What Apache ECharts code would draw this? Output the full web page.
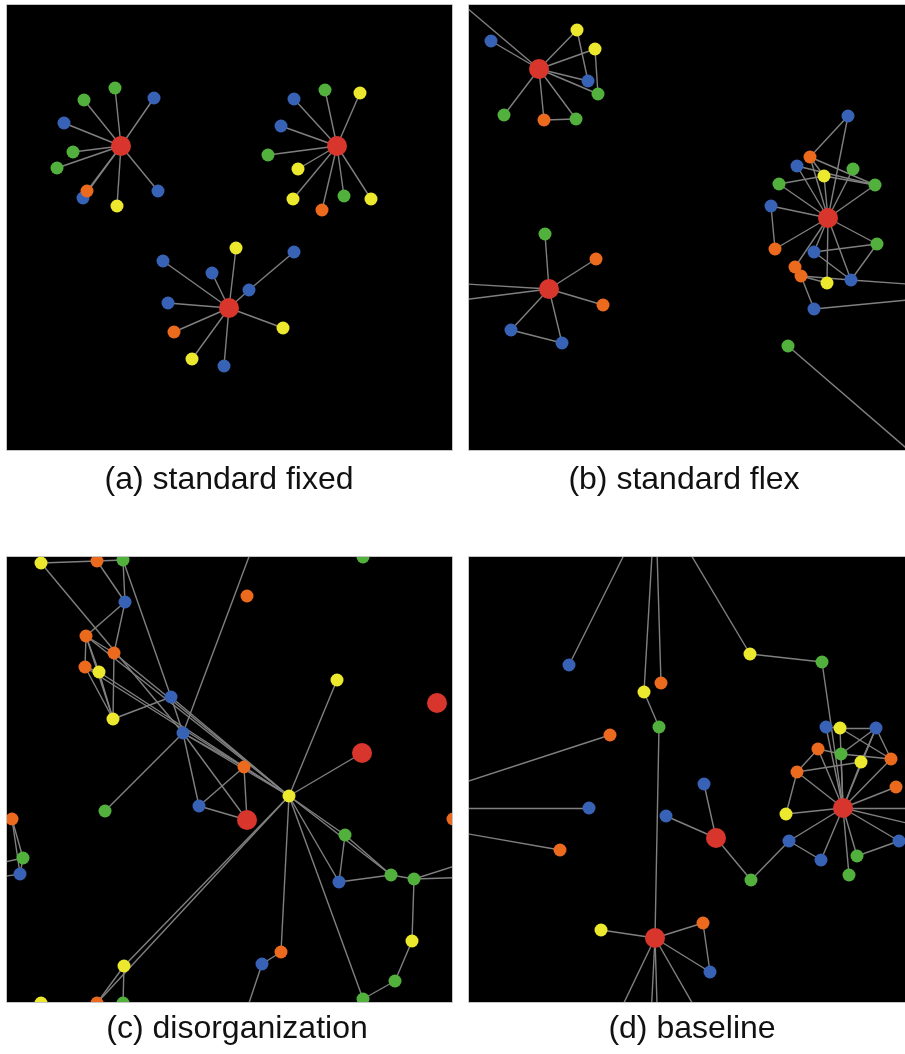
<!DOCTYPE html>
<html><head><meta charset="utf-8">
<script src="https://cdn.jsdelivr.net/npm/echarts@6/dist/echarts.min.js"></script>
<style>html,body{margin:0;padding:0;background:#fff}#c{width:905px;height:1054px}</style>
</head><body><div id="c"></div>
<script>
// Node arrays: [x, y, kind] in panel-local units; kind null = off-panel anchor point
const nodesA = [
  [114,141,'R'],[108,83,'G'],[77,95,'G'],[147,93,'B'],[57,118,'B'],[66,147,'G'],[50,163,'G'],[76,193,'B'],[80,186,'O'],[110,201,'Y'],[151,186,'B'],
  [330,141,'R'],[318,85,'G'],[287,94,'B'],[353,88,'Y'],[274,121,'B'],[261,150,'G'],[291,164,'Y'],[286,194,'Y'],[315,205,'O'],[337,191,'G'],[364,194,'Y'],
  [222,303,'R'],[156,256,'B'],[229,243,'Y'],[205,268,'B'],[287,247,'B'],[242,285,'B'],[161,298,'B'],[167,327,'O'],[276,323,'Y'],[185,354,'Y'],[217,361,'B']
];
const edgesA = [
  [0,1],[0,2],[0,3],[0,4],[0,5],[0,6],[0,7],[0,8],[0,9],[0,10],
  [11,12],[11,13],[11,14],[11,15],[11,16],[11,17],[11,18],[11,19],[11,20],[11,21],
  [22,23],[22,24],[22,25],[22,27],[27,26],[22,28],[22,29],[22,30],[22,31],[22,32]
];
const nodesB = [
  [70,64,'R'],[22,36,'B'],[108,25,'Y'],[126,44,'Y'],[119,76,'B'],[129,89,'G'],[35,110,'G'],[75,115,'O'],[107,114,'G'],[-28,-19,null],
  [359,213,'R'],[379,111,'B'],[341,152,'O'],[328,161,'B'],[355,171,'Y'],[384,164,'G'],[406,180,'G'],[310,179,'G'],[302,201,'B'],[306,244,'O'],
  [345,247,'B'],[408,239,'G'],[326,262,'O'],[332,271,'O'],[358,278,'Y'],[382,275,'B'],[345,304,'B'],[319,341,'G'],[480,282,null],[480,291,null],[480,480,null],
  [80,284,'R'],[76,229,'G'],[127,254,'O'],[134,300,'O'],[42,325,'B'],[93,338,'B'],[-69,275,null],[-69,303,null]
];
const edgesB = [
  [0,1],[0,2],[0,3],[0,4],[0,5],[0,6],[0,7],[0,8],[0,9],[2,4],[3,5],[7,8],
  [10,11],[11,12],[10,12],[12,16],[12,14],[13,16],[13,10],[14,10],[15,10],[16,10],[17,14],[17,10],[18,10],[18,19],
  [10,19],[10,20],[10,21],[10,24],[10,25],[20,21],[20,25],[21,25],[10,22],[23,24],[23,25],[23,26],[14,16],
  [25,28],[26,29],[27,30],
  [31,32],[31,33],[31,34],[31,35],[31,36],[35,36],[31,37],[31,38]
];
const nodesC = [
  [34,6,'Y'],[90,4,'O'],[116,3,'G'],[356,0,'G'],[118,45,'B'],[240,39,'O'],[79,79,'O'],[107,96,'O'],[78,110,'O'],[92,115,'Y'],
  [106,162,'Y'],[164,140,'B'],[176,176,'B'],[330,123,'Y'],[430,146,'R'],[355,196,'R'],[237,210,'O'],[282,239,'Y'],[98,254,'G'],[192,249,'B'],
  [240,263,'R'],[5,262,'O'],[16,301,'G'],[13,317,'B'],[338,278,'G'],[332,325,'B'],[384,318,'G'],[407,322,'G'],[446,262,'O'],[405,384,'Y'],
  [388,424,'G'],[356,442,'G'],[274,395,'O'],[255,407,'B'],[117,409,'Y'],[90,446,'O'],[116,446,'G'],[34,446,'Y'],
  [255,-35,null],[233,473,null],[-20,309,null],[-20,322,null],[470,302,null],[470,320,null]
];
const edgesC = [
  [0,1],[1,2],[1,4],[2,4],[2,11],[0,12],[4,6],[4,7],[6,8],[6,7],[6,10],[7,10],[8,10],[9,10],[8,9],[6,9],
  [10,11],[11,12],[11,17],[6,17],[7,17],[9,17],[8,17],[12,17],[12,38],[12,18],[12,19],[12,20],[12,16],[16,20],[16,19],[19,20],
  [17,15],[17,13],[17,24],[17,25],[17,26],[17,32],[17,31],[17,34],[17,35],[34,35],[34,36],
  [24,25],[24,26],[25,26],[26,27],[27,42],[27,43],[27,29],[29,30],[30,31],[32,33],[33,39],
  [21,22],[21,23],[22,23],[22,40],[23,41]
];
const nodesD = [
  [100,108,'B'],[175,135,'Y'],[192,126,'O'],[281,97,'Y'],[353,105,'G'],[190,170,'G'],[141,178,'O'],[357,170,'B'],[371,171,'Y'],[407,171,'B'],
  [349,192,'O'],[372,197,'G'],[392,205,'Y'],[422,202,'O'],[328,215,'O'],[427,230,'O'],[374,251,'R'],[317,257,'Y'],[320,284,'B'],[352,303,'B'],
  [388,299,'G'],[380,318,'G'],[430,284,'B'],[235,227,'B'],[197,259,'B'],[247,281,'R'],[282,323,'G'],[120,251,'B'],[91,293,'O'],[132,373,'Y'],
  [186,381,'R'],[234,366,'O'],[241,415,'B'],
  [171,-34,null],[186,-54,null],[187,-40,null],[206,-29,null],[-40,237,null],[-40,251,null],[-40,270,null],
  [140,477,null],[181,480,null],[189,480,null],[241,477,null],[480,251,null],[480,276,null]
];
const edgesD = [
  [0,33],[1,34],[2,35],[3,36],[1,5],[5,30],[3,4],[4,16],[6,37],[27,38],[28,39],
  [30,40],[30,41],[30,42],[30,43],[30,29],[30,31],[30,32],[31,32],
  [25,23],[25,24],[25,26],[26,18],[18,16],[18,19],[19,16],[16,17],[16,14],[16,20],[16,21],[16,22],[20,22],[16,15],[16,44],[16,45],[14,17],
  [7,8],[8,9],[9,13],[9,11],[8,13],[10,11],[11,13],[14,12],[10,14],[9,12],[7,16],[8,16],[10,16],[11,16],[12,16],[13,16],[9,16]
];
const panelLabels = ['(a) standard fixed','(b) standard flex','(c) disorganization','(d) baseline'];

const kindColor = {R:'#d8352c', B:'#3862b5', G:'#52b13d', Y:'#ece82e', O:'#ec6a1d'};
const panels = [
  {nodes:nodesA, edges:edgesA, left:7,   top:5,   w:445, h:445, lx:229, ly:480},
  {nodes:nodesB, edges:edgesB, left:469, top:5,   w:436, h:445, lx:684, ly:480},
  {nodes:nodesC, edges:edgesC, left:7,   top:557, w:445, h:445, lx:237, ly:1029},
  {nodes:nodesD, edges:edgesD, left:469, top:557, w:436, h:445, lx:692, ly:1029}
];

const grid=[], xAxis=[], yAxis=[], series=[], graphic=[];
panels.forEach((p,i)=>{
  grid.push({left:p.left, top:p.top, width:p.w, height:p.h, show:true, backgroundColor:'#000', borderWidth:0});
  xAxis.push({type:'value', gridIndex:i, min:0, max:p.w, show:false});
  yAxis.push({type:'value', gridIndex:i, min:0, max:p.h, inverse:true, show:false});
  series.push({
    type:'lines', coordinateSystem:'cartesian2d', xAxisIndex:i, yAxisIndex:i, clip:true, silent:true, z:2,
    lineStyle:{color:'#808080', width:1.4, opacity:1},
    data:p.edges.map(e=>({coords:[[p.nodes[e[0]][0],p.nodes[e[0]][1]],[p.nodes[e[1]][0],p.nodes[e[1]][1]]]}))
  });
  const small = p.nodes.filter(n=>n[2] && n[2]!=='R');
  const big = p.nodes.filter(n=>n[2]==='R');
  [small,big].forEach(list=>{
    series.push({
      type:'scatter', xAxisIndex:i, yAxisIndex:i, clip:false, silent:true, z:3,
      symbol:'circle',
      symbolSize:(v)=> v[2]==='R'?20:13,
      itemStyle:{opacity:1},
      data:list.map(n=>({value:[n[0],n[1],n[2]], itemStyle:{color:kindColor[n[2]], opacity:1}}))
    });
  });
});
// white masks outside the panels
const masks = [[0,0,905,5],[0,0,7,1054],[452,0,17,1054],[0,450,905,107],[0,1002,905,52]];
masks.forEach(m=>graphic.push({type:'rect', z:50, silent:true, shape:{x:m[0],y:m[1],width:m[2],height:m[3]}, style:{fill:'#fff'}}));
panels.forEach((p,i)=>{
  graphic.push({type:'rect', z:60, silent:true, shape:{x:p.left-0.5,y:p.top-0.5,width:p.w+1,height:p.h+1}, style:{fill:null, stroke:'#c4c4c4', lineWidth:1}});
  graphic.push({type:'text', z:70, silent:true, x:p.lx, y:p.ly, style:{text:panelLabels[i], textAlign:'center', textVerticalAlign:'middle', font:'32px "Liberation Sans", Arial, sans-serif', fill:'#111'}});
});

const chart = echarts.init(document.getElementById('c'), null, {renderer:'canvas'});
chart.setOption({animation:false, backgroundColor:'#fff', grid, xAxis, yAxis, series, graphic});
</script></body></html>
